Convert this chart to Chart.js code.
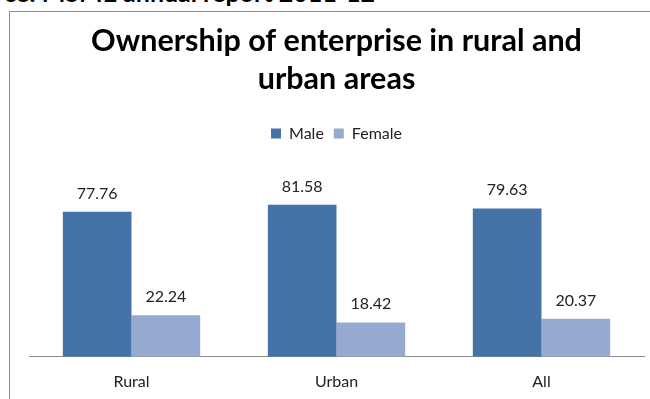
<!DOCTYPE html>
<html>
<head>
<meta charset="utf-8">
<script src="https://cdn.jsdelivr.net/npm/chart.js@4"></script>
<style>
  html, body { margin: 0; padding: 0; width: 650px; height: 399px; overflow: hidden; background: #fff; }
  #source {
    position: absolute; right: 275px; top: -23px; white-space: nowrap;
    font: bold 25px Lato, "Open Sans", sans-serif; color: #000;
  }
  #frame {
    position: absolute; left: 9px; top: 11px; width: 700px; height: 400px;
    border: 1px solid #8c8c8c; box-sizing: border-box;
  }
  #wrap { position: absolute; left: 1px; top: 1px; width: 640px; height: 385px; }
</style>
</head>
<body>
<div id="source">Source: MSME annual report 2011-12</div>
<div id="frame">
  <div id="wrap"><canvas id="barChart"></canvas></div>
</div>
<script>
const categories = ["Rural", "Urban", "All"];
const maleValues = [77.76, 81.58, 79.63];
const femaleValues = [22.24, 18.42, 20.37];

const FONT = "Lato, 'Open Sans', sans-serif";

// value labels above each bar
const valueLabels = {
  id: "valueLabels",
  afterDatasetsDraw(chart) {
    const ctx = chart.ctx;
    ctx.save();
    ctx.font = "16px " + FONT;
    ctx.fillStyle = "#222";
    ctx.textAlign = "center";
    ctx.textBaseline = "alphabetic";
    chart.data.datasets.forEach((ds, i) => {
      chart.getDatasetMeta(i).data.forEach((bar, j) => {
        ctx.fillText(ds.data[j].toFixed(2), bar.x, bar.y - 13);
      });
    });
    ctx.restore();
  }
};

// extra room under the legend
const legendGap = {
  id: "legendGap",
  beforeInit(chart) {
    const fit = chart.legend.fit;
    chart.legend.fit = function () {
      fit.bind(chart.legend)();
      this.height += 19;
    };
  }
};

let chart;

function initChart() {
  const ctx = document.getElementById("barChart");
  chart = new Chart(ctx, {
    type: "bar",
    data: {
      labels: categories,
      datasets: [{
        label: "Male",
        data: maleValues,
        backgroundColor: "#4673a7"
      }, {
        label: "Female",
        data: femaleValues,
        backgroundColor: "#95a9d1"
      }]
    },
    options: {
      responsive: true,
      maintainAspectRatio: false,
      animation: false,
      categoryPercentage: 0.67,
      barPercentage: 1.0,
      layout: { padding: { left: 18, right: 7, top: 0, bottom: 0 } },
      plugins: {
        title: {
          display: true,
          text: ["Ownership of enterprise in rural and", "urban areas"],
          color: "#000",
          font: { family: FONT, size: 30.5, weight: "bold", lineHeight: 1.22 },
          padding: { top: 10, bottom: 18 }
        },
        legend: {
          display: true,
          labels: {
            color: "#222",
            font: { family: FONT, size: 16 },
            boxWidth: 10,
            boxHeight: 10,
            padding: 10
          }
        },
        tooltip: { enabled: false }
      },
      scales: {
        x: {
          grid: { display: false },
          border: { display: true, color: "#8c8c8c" },
          ticks: { color: "#222", font: { family: FONT, size: 16 }, padding: 7 }
        },
        y: {
          display: false,
          min: 0,
          max: 100
        }
      }
    },
    plugins: [valueLabels, legendGap]
  });
}

initChart();
</script>
</body>
</html>
